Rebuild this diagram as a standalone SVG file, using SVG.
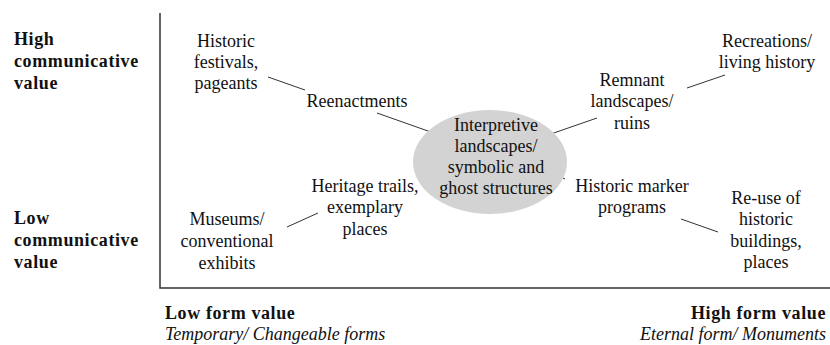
<svg xmlns="http://www.w3.org/2000/svg" width="830" height="345" viewBox="0 0 830 345" style="font-family:'Times New Roman', Times, 'Liberation Serif', serif">
<style>
text{fill:#111;font-family:'Times New Roman', Times, 'Liberation Serif', serif}
.n{font-size:18px;text-anchor:middle}
.b{font-size:18px;font-weight:bold;letter-spacing:0.6px}
.i{font-size:18px;font-style:italic}
.c line{stroke:#333;stroke-width:1}
.ax{stroke:#333;stroke-width:1.5;fill:none}
</style>
<rect width="830" height="345" fill="#fff"/>
<g id="axes">
<path class="ax" d="M160,13 V288 H830"/>
</g>
<g id="axis-labels">
<text class="b" x="14" y="45">High</text>
<text class="b" x="14" y="67">communicative</text>
<text class="b" x="14" y="89">value</text>
<text class="b" x="14" y="224">Low</text>
<text class="b" x="14" y="246">communicative</text>
<text class="b" x="14" y="268">value</text>
<text class="b" x="165" y="319">Low form value</text>
<text class="i" x="165" y="340">Temporary/ Changeable forms</text>
<text class="b" x="826" y="319" text-anchor="end">High form value</text>
<text class="i" x="826" y="340" text-anchor="end">Eternal form/ Monuments</text>
</g>
<g id="connectors" class="c">
<line x1="268" y1="77" x2="305" y2="90"/>
<line x1="377" y1="113" x2="445" y2="137"/>
<line x1="548" y1="135" x2="597" y2="118"/>
<line x1="687" y1="88" x2="725" y2="75"/>
<line x1="425" y1="179" x2="437" y2="174"/>
<line x1="556" y1="175" x2="565" y2="179"/>
<line x1="287" y1="227" x2="318" y2="213"/>
<line x1="681" y1="219" x2="718" y2="232"/>
</g>
<g id="center">
<ellipse cx="490" cy="162" rx="77" ry="52" fill="#d3d3d3"/>
<text class="n" x="496" y="131">Interpretive</text>
<text class="n" x="496" y="152">landscapes/</text>
<text class="n" x="496" y="173">symbolic and</text>
<text class="n" x="496" y="194">ghost structures</text>
</g>
<g id="festivals">
<text class="n" x="226" y="47">Historic</text>
<text class="n" x="226" y="68">festivals,</text>
<text class="n" x="226" y="89">pageants</text>
</g>
<g id="reenactments">
<text class="n" x="357" y="107">Reenactments</text>
</g>
<g id="remnant">
<text class="n" x="632" y="86">Remnant</text>
<text class="n" x="632" y="107">landscapes/</text>
<text class="n" x="632" y="129">ruins</text>
</g>
<g id="recreations">
<text class="n" x="767" y="47">Recreations/</text>
<text class="n" x="767" y="68">living history</text>
</g>
<g id="heritage">
<text class="n" x="365" y="192">Heritage trails,</text>
<text class="n" x="365" y="213">exemplary</text>
<text class="n" x="365" y="235">places</text>
</g>
<g id="museums">
<text class="n" x="227" y="225">Museums/</text>
<text class="n" x="227" y="247">conventional</text>
<text class="n" x="227" y="269">exhibits</text>
</g>
<g id="marker">
<text class="n" x="632" y="192">Historic marker</text>
<text class="n" x="632" y="213">programs</text>
</g>
<g id="reuse">
<text class="n" x="766" y="204">Re-use of</text>
<text class="n" x="766" y="225">historic</text>
<text class="n" x="766" y="247">buildings,</text>
<text class="n" x="766" y="268">places</text>
</g>
</svg>
